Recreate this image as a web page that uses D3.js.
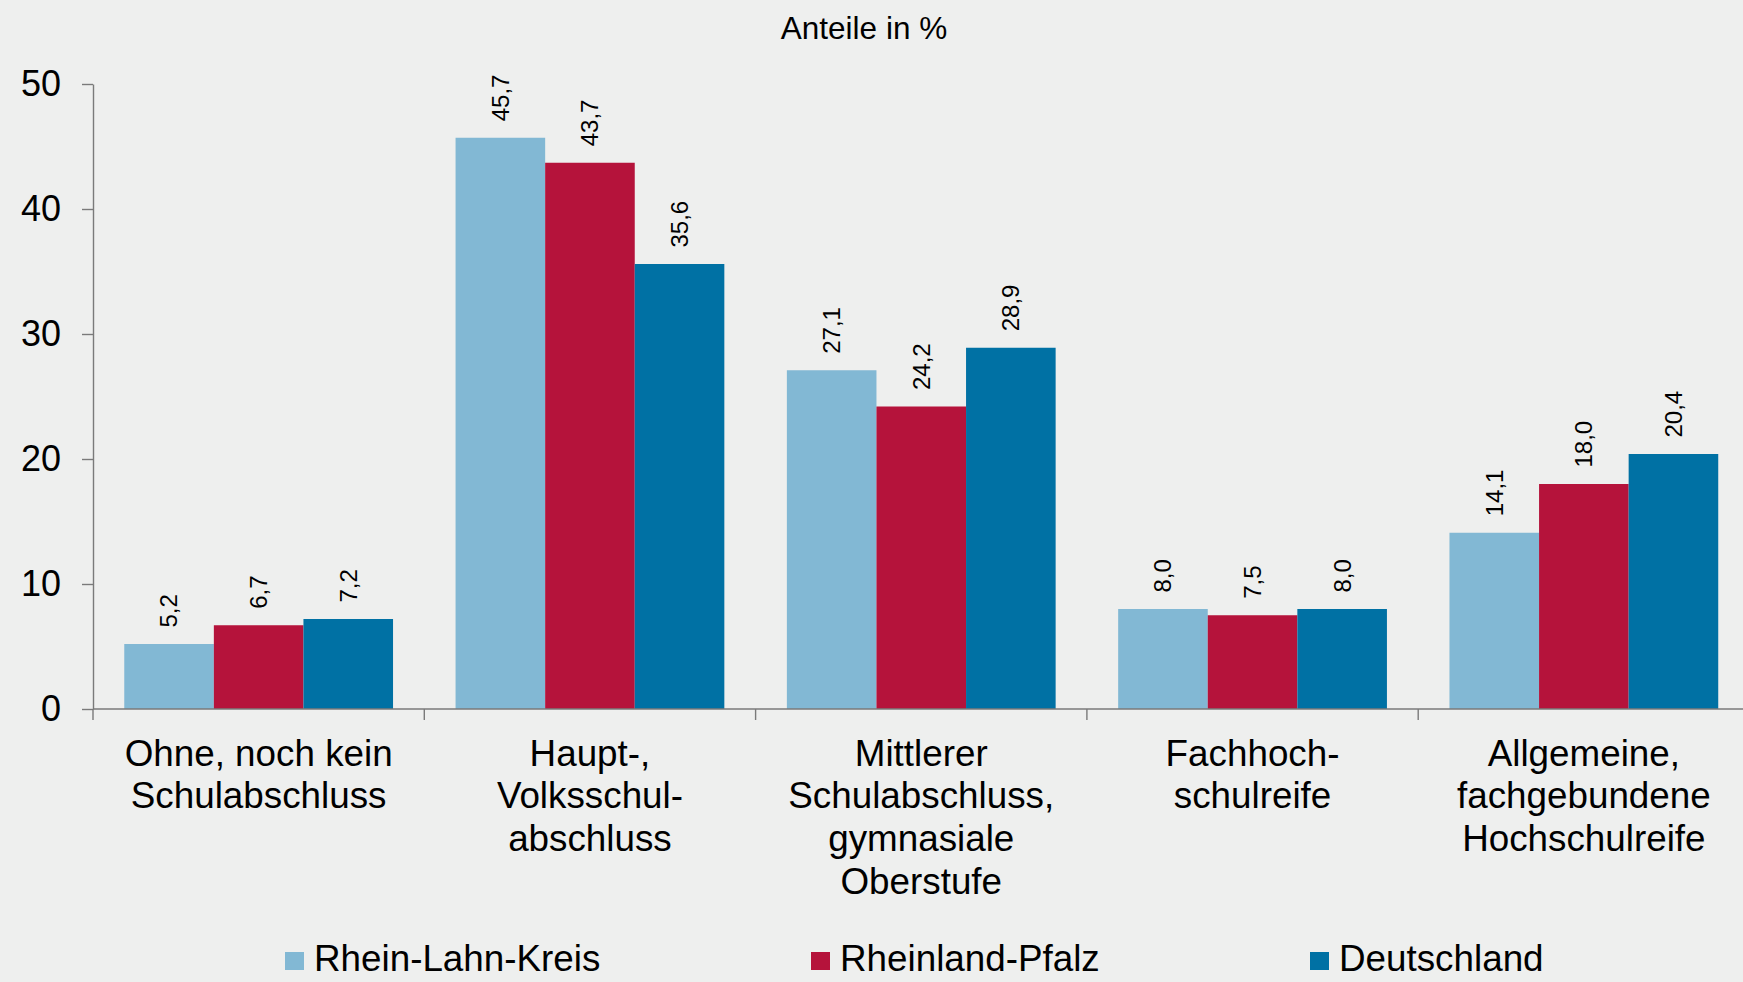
<!DOCTYPE html>
<html><head><meta charset="utf-8">
<script src="https://cdn.jsdelivr.net/npm/d3@7"></script>
<style>
html,body{margin:0;padding:0;background:#eeefee;}
svg{display:block;font-family:"Liberation Sans",Arial,Helvetica,sans-serif;}
</style></head>
<body>
<svg id="chart" width="1743" height="982"></svg>
<script>
const categories = [
  ["Ohne, noch kein", "Schulabschluss"],
  ["Haupt-,", "Volksschul-", "abschluss"],
  ["Mittlerer", "Schulabschluss,", "gymnasiale", "Oberstufe"],
  ["Fachhoch-", "schulreife"],
  ["Allgemeine,", "fachgebundene", "Hochschulreife"]
];
const seriesNames = ["Rhein-Lahn-Kreis", "Rheinland-Pfalz", "Deutschland"];
const rheinLahnKreis = [5.2, 45.7, 27.1, 8.0, 14.1];
const rheinlandPfalz = [6.7, 43.7, 24.2, 7.5, 18.0];
const deutschland = [7.2, 35.6, 28.9, 8.0, 20.4];
const yTicks = [0, 10, 20, 30, 40, 50];
const title = "Anteile in %";
const colors = ["#82b8d4", "#b5133b", "#0071a4"];

(function () {
const seriesValues = [rheinLahnKreis, rheinlandPfalz, deutschland];
const catKeys = categories.map((c, i) => i);

const svg = d3.select("#chart");
svg.append("rect").attr("width", 1743).attr("height", 982).attr("fill", "#eeefee");

const mLeft = 93, mRight = 1749.5, mTop = 84, mBottom = 709;
const x0 = d3.scaleBand().domain(catKeys).range([mLeft, mRight]).padding(0);
const x1 = d3.scaleBand().domain(d3.range(seriesNames.length)).range([0, x0.bandwidth()]).paddingInner(0).paddingOuter(0.349);
const y = d3.scaleLinear().domain([0, 50]).range([mBottom, mTop]);
const fmt = v => d3.format(".1f")(v).replace(".", ",");

// title
svg.append("text").attr("x", 864).attr("y", 39).attr("text-anchor", "middle")
  .attr("font-size", 31.5).attr("fill", "#000").text(title);

// bars
const groups = svg.append("g").selectAll("g").data(catKeys).join("g")
  .attr("transform", d => `translate(${x0(d)},0)`);
groups.selectAll("rect").data(ci => seriesValues.map((s, si) => ({si, v: s[ci]}))).join("rect")
  .attr("x", d => x1(d.si)).attr("width", x1.bandwidth())
  .attr("y", d => y(d.v)).attr("height", d => y(0) - y(d.v))
  .attr("fill", d => colors[d.si]);

// value labels
groups.selectAll("text").data(ci => seriesValues.map((s, si) => ({si, v: s[ci]}))).join("text")
  .attr("transform", d => `translate(${x1(d.si) + x1.bandwidth() / 2},${y(d.v) - 16.5}) rotate(-90)`)
  .attr("dy", "0.35em").attr("text-anchor", "start")
  .attr("font-size", 24).attr("fill", "#000")
  .text(d => fmt(d.v));

// y axis
const yAxis = svg.append("g").attr("transform", `translate(${mLeft},0)`)
  .call(d3.axisLeft(y).tickValues(yTicks).tickSize(11).tickSizeOuter(0).tickPadding(21));
yAxis.select(".domain").attr("stroke", "#7a7a7a").attr("stroke-width", 1.4);
yAxis.selectAll(".tick line").attr("stroke", "#7a7a7a").attr("stroke-width", 1.4);
yAxis.selectAll(".tick text").attr("font-size", 36).attr("fill", "#000")
  .attr("font-family", "Liberation Sans, Arial, sans-serif");

// x axis line + boundary ticks
const xAxis = svg.append("g");
xAxis.append("line").attr("x1", mLeft).attr("x2", mRight).attr("y1", y(0)).attr("y2", y(0))
  .attr("stroke", "#7a7a7a").attr("stroke-width", 1.4);
xAxis.selectAll("line.tk").data(catKeys).join("line").attr("class", "tk")
  .attr("x1", d => x0(d)).attr("x2", d => x0(d))
  .attr("y1", y(0)).attr("y2", y(0) + 11)
  .attr("stroke", "#7a7a7a").attr("stroke-width", 1.4);

// category labels
const catLabels = svg.append("g").selectAll("text").data(catKeys).join("text")
  .attr("x", d => x0(d) + x0.bandwidth() / 2).attr("y", 765.5)
  .attr("text-anchor", "middle").attr("font-size", 36.8).attr("fill", "#000");
catLabels.selectAll("tspan").data(d => categories[d].map(t => ({t, x: x0(d) + x0.bandwidth() / 2}))).join("tspan")
  .attr("x", d => d.x).attr("dy", (d, i) => i === 0 ? 0 : 42.7).text(d => d.t);

// legend
const legendX = [285, 811, 1310];
const lg = svg.append("g").selectAll("g").data(seriesNames).join("g")
  .attr("transform", (d, i) => `translate(${legendX[i]},0)`);
lg.append("rect").attr("x", 0).attr("y", 952).attr("width", 19).attr("height", 18)
  .attr("fill", (d, i) => colors[i]);
lg.append("text").attr("x", 29).attr("y", 971).attr("font-size", 36.8).attr("fill", "#000").text(d => d);
})();
</script>
</body></html>
